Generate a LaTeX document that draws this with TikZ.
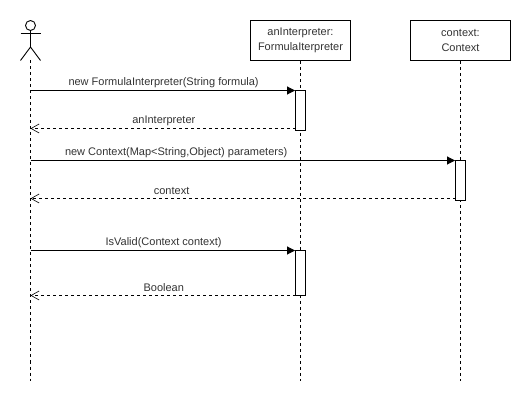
\documentclass[tikz,border=0pt]{standalone}
\usepackage{fontspec}
\setmainfont{Liberation Sans}
\usetikzlibrary{arrows.meta}
\definecolor{labelgray}{HTML}{333333}
\tikzset{
  lifeline/.style={draw=black,line width=0.8pt,dash pattern=on 3pt off 3pt},
  objbox/.style={draw=black,line width=0.9pt,fill=white,minimum width=100pt,minimum height=40pt,inner sep=0pt,align=center,text=labelgray,font=\fontsize{11}{14.5}\selectfont},
  activation/.style={draw=black,line width=0.9pt,fill=white,minimum width=10pt,inner sep=0pt,anchor=north},
  callmsg/.style={draw=black,line width=0.9pt,-{Triangle[length=8pt,width=8pt]}},
  returnmsg/.style={draw=black,line width=0.8pt,dash pattern=on 3pt off 3pt,-{Straight Barb[length=8pt,width=9pt,line width=0.6pt]}},
  msglabel/.style={text=labelgray,font=\fontsize{11}{13}\selectfont,inner sep=0pt,yshift=7.5pt},
}
\begin{document}
\begin{tikzpicture}[x=1pt,y=-1pt]
\useasboundingbox (0,0) rectangle (531,401);
% Object boxes
\node[objbox] (interpreter) at (300.5,40.5) {anInterpreter:\\FormulaIterpreter};
\node[objbox] (context) at (460.5,40.5) {context:\\Context};
% Actor
\coordinate (head) at (30.5,25.5);
\coordinate (neck) at (30.5,30.5);
\coordinate (hip) at (30.5,47);
\coordinate (foot) at (30.5,60.5);
\draw[line width=0.9pt] (head) circle [radius=5];
\draw[line width=0.9pt] (neck) -- (hip);
\draw[line width=0.9pt] (20.5,33.5) -- (40.5,33.5);
\draw[line width=0.9pt] (20.5,60.5) -- (hip) -- (40.5,60.5);
% Lifelines
\coordinate (userend) at (30.5,380.5);
\coordinate (interpreterend) at (300.5,380.5);
\coordinate (contextend) at (460.5,380.5);
\draw[lifeline] (foot) -- (userend);
\draw[lifeline] (interpreter.south) -- (interpreterend);
\draw[lifeline] (context.south) -- (contextend);
% Activation bars
\node[activation,minimum height=40pt] (actA) at (300.5,90.5) {};
\node[activation,minimum height=40pt] (actB) at (460.5,160.5) {};
\node[activation,minimum height=45pt] (actC) at (300.5,250.5) {};
% Points on the actor's lifeline
\coordinate (userA) at (30.5,90.5);
\coordinate (userB) at (30.5,128.5);
\coordinate (userC) at (30.5,160.5);
\coordinate (userD) at (30.5,198.5);
\coordinate (userE) at (30.5,250.5);
\coordinate (userF) at (30.5,295.5);
% Return points on the bars
\coordinate (backA) at (295.5,128.5);
\coordinate (backB) at (455.5,198.5);
\coordinate (backC) at (295.5,295.5);
% Messages
\draw[callmsg] (userA) -- (actA.north west) node[msglabel,pos=0.503] {new FormulaInterpreter(String formula)};
\draw[returnmsg] (backA) -- (userB) node[msglabel,pos=0.497] {anInterpreter};
\draw[callmsg] (userC) -- (actB.north west) node[msglabel,pos=0.343] {new Context(Map<String,Object) parameters)};
\draw[returnmsg] (backB) -- (userD) node[msglabel,pos=0.668] {context};
\draw[callmsg] (userE) -- (actC.north west) node[msglabel,pos=0.503] {IsValid(Context context)};
\draw[returnmsg] (backC) -- (userF) node[msglabel,pos=0.497] {Boolean};
\end{tikzpicture}
\end{document}
